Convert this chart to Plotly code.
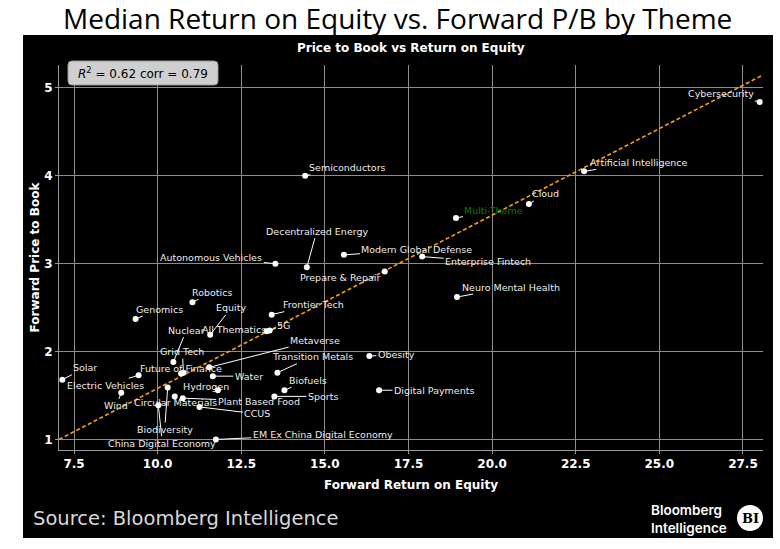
import numpy as np
import plotly.graph_objects as go

# ---------------- data ----------------
themes = ["Cybersecurity", "Artificial Intelligence", "Semiconductors", "Cloud", "Multi-Theme",
          "Decentralized Energy", "Autonomous Vehicles", "Modern Global Defense", "Prepare & Repair",
          "Enterprise Fintech", "Neuro Mental Health", "Genomics", "Robotics", "Equity", "Frontier Tech",
          "All Thematics", "5G", "Nuclear", "Grid Tech", "Future of Finance", "Metaverse", "Solar",
          "Electric Vehicles", "Wind", "Transition Metals", "Water", "Hydrogen", "Biofuels", "Sports",
          "Circular Materials", "Plant Based Food", "CCUS", "Biodiversity", "China Digital Economy",
          "EM Ex China Digital Economy", "Obesity", "Digital Payments"]
roe = [28.0, 22.75, 14.41, 21.10, 18.92,
       14.46, 13.52, 15.57, 16.79,
       17.91, 18.95, 9.34, 11.04, 11.57, 13.41,
       13.26, 13.35, 10.47, 10.77, 10.70, 11.54, 7.15,
       9.43, 8.91, 13.58, 11.65, 11.80, 13.79, 13.49,
       10.51, 10.75, 11.25, 10.30, 10.02,
       11.74, 16.33, 16.62]
pb = [4.84, 4.05, 4.00, 3.68, 3.52,
      2.96, 3.00, 3.10, 2.91,
      3.08, 2.62, 2.37, 2.56, 2.19, 2.42,
      2.23, 2.24, 1.88, 1.76, 1.75, 1.82, 1.68,
      1.73, 1.53, 1.76, 1.72, 1.56, 1.56, 1.49,
      1.49, 1.47, 1.37, 1.59, 1.39,
      1.00, 1.95, 1.56]

fit_slope = 0.197
fit_intercept = -0.389
r_squared = 0.62
corr = 0.79

x_ticks = [7.5, 10.0, 12.5, 15.0, 17.5, 20.0, 22.5, 25.0, 27.5]
y_ticks = [1, 2, 3, 4, 5]

# label placement offsets (pixels, label centre relative to point)
label_dx = [-39, 55, 42, 17, 38,
            10, -64, 73, -45,
            66, 54, 24, 20, 21, 42,
            -33, 14, 13, -1, 0, 106, 23,
            -33, -5, 35, 36, -12, 24, 49,
            1, 76, 58, -3, 4,
            107, 27, 55]
label_dy = [-8, -9, -8, -10, -7,
            -36, -6, -5, 6,
            5, -10, -10, -10, -27, -10,
            -2, -5, -32, -21, -5, -27, -12,
            10, 13, -16, 0, -4, -10, 0,
            6, 3, 7, 42, 38,
            -5, -1, 0]

# ---------------- figure ----------------
X_RANGE = [7.05, 28.1]
Y_RANGE = [0.88, 5.26]
PL, PR, PT, PB_ = 59, 763, 65, 450
W, H = 780, 549
pw, ph = PR - PL, PB_ - PT


def px2paper(px, py):
    return (px - PL) / pw, (PB_ - py) / ph


fig = go.Figure()

fx = np.array(X_RANGE)
fig.add_trace(go.Scatter(x=fx, y=fit_slope * fx + fit_intercept, mode="lines",
                         line=dict(color="#ff9f0f", width=1.6, dash="4px,2.5px"),
                         hoverinfo="skip", showlegend=False))
fig.add_trace(go.Scatter(x=roe, y=pb, mode="markers",
                         marker=dict(color="white", size=6),
                         text=themes, showlegend=False))

annos = []
for t, xv, yv, dx, dy in zip(themes, roe, pb, label_dx, label_dy):
    annos.append(dict(x=xv, y=yv, xref="x", yref="y", text=t, showarrow=True,
                      ax=dx, ay=dy, arrowhead=0, arrowwidth=1, arrowcolor="white",
                      standoff=2, startstandoff=0,
                      font=dict(family="DejaVu Sans", size=9.5,
                                color="green" if t == "Multi-Theme" else "#ececec")))

# black panel
x0, y0 = px2paper(23, 538)
x1, y1 = px2paper(773, 35)
shapes = [dict(type="rect", xref="paper", yref="paper", x0=x0, y0=y0, x1=x1, y1=y1,
               fillcolor="black", line=dict(width=0), layer="below")]

# R^2 box (rounded)
bx0, by0 = px2paper(68, 85)
bx1, by1 = px2paper(218, 61)
rx, ry = 4 / pw, 4 / ph
path = (f"M {bx0+rx},{by0} L {bx1-rx},{by0} Q {bx1},{by0} {bx1},{by0+ry} "
        f"L {bx1},{by1-ry} Q {bx1},{by1} {bx1-rx},{by1} L {bx0+rx},{by1} "
        f"Q {bx0},{by1} {bx0},{by1-ry} L {bx0},{by0+ry} Q {bx0},{by0} {bx0+rx},{by0} Z")
shapes.append(dict(type="path", xref="paper", yref="paper", path=path,
                   fillcolor="#cfcfcf", line=dict(color="#9a9a9a", width=1), layer="above"))

# BI circle
cx0, cy0 = px2paper(737, 531)
cx1, cy1 = px2paper(763, 505)
shapes.append(dict(type="circle", xref="paper", yref="paper", x0=cx0, y0=cy0, x1=cx1, y1=cy1,
                   fillcolor="white", line=dict(width=0), layer="above"))


def paper_text(px, py, text, size, color, family="DejaVu Sans", xanchor="center", weight="normal"):
    xp, yp = px2paper(px, py)
    return dict(x=xp, y=yp, xref="paper", yref="paper", text=text, showarrow=False,
                xanchor=xanchor, yanchor="middle",
                font=dict(family=family, size=size, color=color, weight=weight))


annos.append(paper_text(397, 18.5, "Median Return on Equity vs. Forward P/B by Theme", 28, "black",
                        family="Open Sans"))
annos.append(paper_text(411, 48, "Price to Book vs Return on Equity", 12, "white", weight="bold"))
annos.append(paper_text(143, 73.5, f"<i>R</i><sup>2</sup> = {r_squared:.2f} corr = {corr:.2f}",
                        12, "black"))
annos.append(paper_text(31, 518, "Source: Bloomberg Intelligence", 19.5, "#d8d8d8", xanchor="left"))
annos.append(paper_text(649, 510, "Bloomberg", 13.5, "white", family="Inter", xanchor="left", weight=600))
annos.append(paper_text(649, 528, "Intelligence", 13.5, "white", family="Inter", xanchor="left", weight=600))
annos.append(paper_text(750, 518.5, "BI", 13, "black", family="DejaVu Serif", weight="bold"))

axis_font = dict(family="DejaVu Sans", size=12, color="white", weight="bold")
common = dict(showgrid=True, gridcolor="#8c8c8c", gridwidth=1, zeroline=False,
              showline=True, linecolor="#9a9a9a", linewidth=1,
              ticks="outside", ticklen=3, tickcolor="#9a9a9a", tickfont=axis_font)
fig.update_layout(
    width=W, height=H,
    margin=dict(l=PL, r=W - PR, t=PT, b=H - PB_, pad=0),
    paper_bgcolor="white", plot_bgcolor="black",
    shapes=shapes, annotations=annos,
    xaxis=dict(range=X_RANGE, tickvals=x_ticks, ticktext=[f"{v:.1f}" for v in x_ticks],
               title=dict(text="Forward Return on Equity", font=axis_font, standoff=10), **common),
    yaxis=dict(range=Y_RANGE, tickvals=y_ticks, ticktext=[str(v) for v in y_ticks],
               title=dict(text="Forward Price to Book", font=axis_font, standoff=2), **common),
)

fig.write_html("out.html")
